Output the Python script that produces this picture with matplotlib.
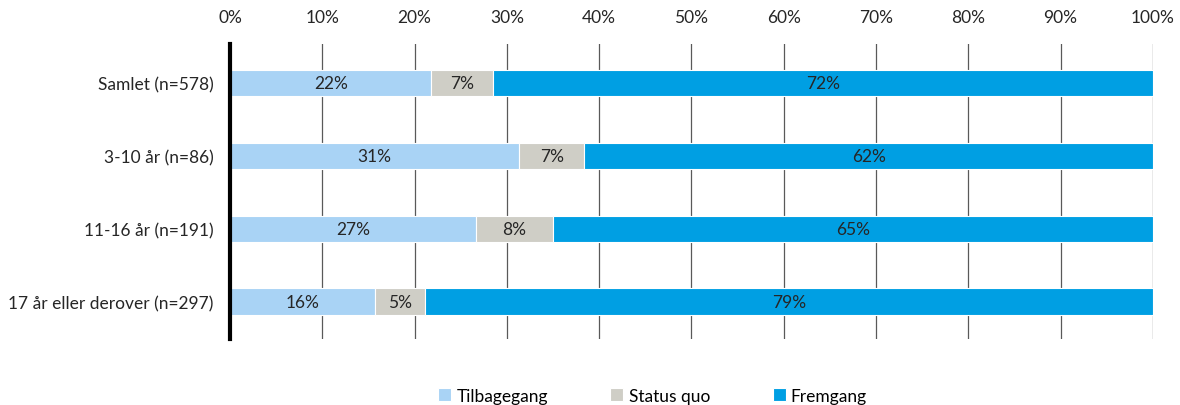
import matplotlib
matplotlib.use("Agg")
import matplotlib.pyplot as plt
import numpy as np

categories = ["Samlet (n=578)", "3-10 år (n=86)", "11-16 år (n=191)", "17 år eller derover (n=297)"]
series_names = ["Tilbagegang", "Status quo", "Fremgang"]
tilbagegang = [21.8, 31.3, 26.6, 15.7]
status_quo = [6.7, 7.1, 8.4, 5.4]
fremgang = [71.5, 61.6, 65.0, 78.9]
colors = ["#A9D3F5", "#CFCEC6", "#009FE3"]
xticks = list(range(0, 101, 10))

plt.rcParams['font.family'] = ['Lato', 'DejaVu Sans']

fig = plt.figure(figsize=(11.8, 4.06), dpi=100)
ax = fig.add_axes([0.195, 0.163, 0.782, 0.726])

FS = 12.5
y = np.arange(len(categories))
left = np.zeros(len(categories))
for vals, name, c in zip([tilbagegang, status_quo, fremgang], series_names, colors):
    vals = np.array(vals)
    ax.barh(y, vals, left=left, height=0.36, color=c, edgecolor="white", linewidth=0.8, label=name, zorder=3)
    for yi, l, v in zip(y, left, vals):
        ax.text(l + v / 2, yi, f"{round(v):.0f}%", ha="center", va="center", fontsize=FS, color="#262626", zorder=4)
    left = left + vals

ax.set_xlim(0, 100)
ax.set_ylim(3.51, -0.53)
ax.set_yticks(y)
ax.set_yticklabels(categories, fontsize=FS, color="#262626")
ax.set_xticks(xticks)
ax.set_xticklabels([f"{t}%" for t in xticks], fontsize=FS, color="#262626")
ax.xaxis.tick_top()
ax.tick_params(axis="y", length=0, pad=12)
ax.tick_params(axis="x", length=0, pad=14)
ax.grid(axis="x", color="#595959", linewidth=0.9, zorder=0)
for s in ["top", "right", "bottom"]:
    ax.spines[s].set_visible(False)
ax.spines["left"].set_linewidth(3)
ax.spines["left"].set_color("black")
ax.spines["left"].set_zorder(5)

fig.legend(loc="lower center", bbox_to_anchor=(0.553, -0.035), ncol=3, frameon=False, fontsize=FS,
           handlelength=0.75, handleheight=0.75, handletextpad=0.3, columnspacing=3.6)

fig.savefig("out.png", dpi=100)
